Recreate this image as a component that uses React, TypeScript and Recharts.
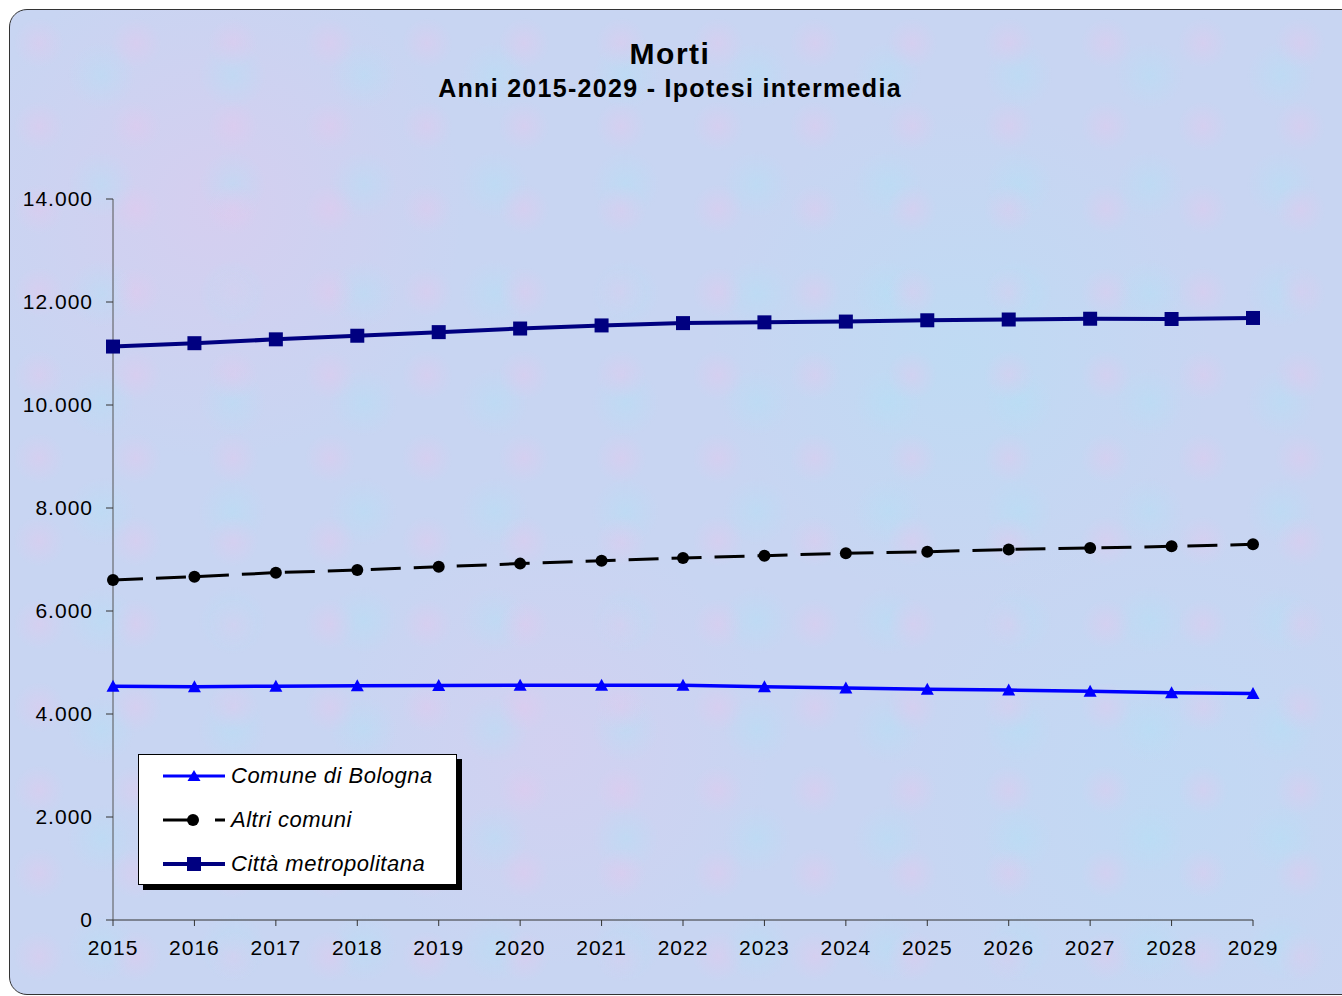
import { LineChart, Line, XAxis, YAxis, Legend } from 'recharts';

const YEARS = ['2015', '2016', '2017', '2018', '2019', '2020', '2021', '2022', '2023', '2024', '2025', '2026', '2027', '2028', '2029'];
const COMUNE_BOLOGNA = [4540, 4530, 4540, 4550, 4555, 4560, 4560, 4560, 4530, 4505, 4480, 4465, 4440, 4415, 4400];
const ALTRI_COMUNI = [6600, 6665, 6745, 6795, 6860, 6920, 6975, 7030, 7075, 7120, 7150, 7195, 7225, 7255, 7295];
const CITTA_METRO = [11135, 11200, 11275, 11345, 11415, 11485, 11545, 11590, 11605, 11620, 11645, 11660, 11675, 11670, 11690];
const Y_TICKS = [0, 2000, 4000, 6000, 8000, 10000, 12000, 14000];

const data = YEARS.map((year, i) => ({
  year,
  comune: COMUNE_BOLOGNA[i],
  altri: ALTRI_COMUNI[i],
  citta: CITTA_METRO[i],
}));

const FONT = '"Liberation Sans", Arial, sans-serif';
const BLUE = '#0000ff';
const NAVY = '#000080';

const fmt = (v: number) => String(v).replace(/\B(?=(\d{3})+(?!\d))/g, '.');

const TriangleDot = (p: any) => (
  <path key={`t${p.index}`} d={`M${p.cx},${p.cy - 6.5} L${p.cx + 6.5},${p.cy + 5.5} L${p.cx - 6.5},${p.cy + 5.5} Z`} fill={BLUE} />
);
const CircleDot = (p: any) => <circle key={`c${p.index}`} cx={p.cx} cy={p.cy} r={6} fill="#000" />;
const SquareDot = (p: any) => <rect key={`s${p.index}`} x={p.cx - 7} y={p.cy - 7} width={14} height={14} fill={NAVY} />;

const LEGEND_ROWS = [
  { label: 'Comune di Bologna', kind: 'tri' },
  { label: 'Altri comuni', kind: 'dot' },
  { label: 'Città metropolitana', kind: 'sq' },
];

const LegendIcon = ({ kind }: { kind: string }) => (
  <svg width={64} height={16} style={{ display: 'block' }}>
    {kind === 'tri' && (
      <>
        <line x1={0} y1={8} x2={62} y2={8} stroke={BLUE} strokeWidth={3} />
        <path d="M31,2 L37.5,13 L24.5,13 Z" fill={BLUE} />
      </>
    )}
    {kind === 'dot' && (
      <>
        <line x1={0} y1={8} x2={31} y2={8} stroke="#000" strokeWidth={3} />
        <circle cx={30} cy={8} r={6} fill="#000" />
        <line x1={52} y1={8} x2={62} y2={8} stroke="#000" strokeWidth={3} />
      </>
    )}
    {kind === 'sq' && (
      <>
        <line x1={0} y1={8} x2={62} y2={8} stroke={NAVY} strokeWidth={4} />
        <rect x={24} y={1} width={14} height={14} fill={NAVY} />
      </>
    )}
  </svg>
);

const renderLegend = () => (
  <div
    style={{
      position: 'relative',
      boxSizing: 'border-box',
      width: 319,
      height: 131,
      background: '#fff',
      border: '1px solid #000',
      boxShadow: '5px 5px 0 #000',
    }}
  >
    {LEGEND_ROWS.map((r, i) => (
      <div key={r.label} style={{ position: 'absolute', left: 24, top: 21 + i * 44 - 8, display: 'flex', alignItems: 'center', height: 16 }}>
        <LegendIcon kind={r.kind} />
        <span style={{ marginLeft: 4, fontFamily: FONT, fontStyle: 'italic', fontSize: 22, letterSpacing: 0.5, color: '#000', whiteSpace: 'nowrap' }}>{r.label}</span>
      </div>
    ))}
  </div>
);

const tickStyle = { fill: '#000', fontSize: 21, fontFamily: FONT, letterSpacing: 1 };

export default function App() {
  return (
    <div style={{ position: 'fixed', left: 0, top: 0, width: 1342, height: 996, overflow: 'hidden', background: '#fff' }}>
      <div
        style={{
          position: 'absolute',
          left: 9,
          top: 9,
          width: 1360,
          height: 986,
          boxSizing: 'border-box',
          border: '1px solid #333',
          borderRadius: 18,
          overflow: 'hidden',
          backgroundColor: '#c8d5f2',
          backgroundImage:
            'radial-gradient(circle at 30% 40%, rgba(236,196,236,0.35), transparent 30%),' +
            'radial-gradient(circle at 70% 60%, rgba(176,226,246,0.4), transparent 30%),' +
            'radial-gradient(circle at 15% 20%, rgba(232,196,236,0.4), transparent 18%),' +
            'radial-gradient(circle at 70% 35%, rgba(180,225,245,0.45), transparent 22%),' +
            'radial-gradient(circle at 40% 75%, rgba(228,200,238,0.35), transparent 20%),' +
            'radial-gradient(circle at 85% 80%, rgba(185,222,246,0.45), transparent 20%)',
          backgroundSize: '97px 83px, 131px 109px, 100% 100%, 100% 100%, 100% 100%, 100% 100%',
        }}
      >
        <div style={{ position: 'absolute', left: 0, width: 1320, top: 29, textAlign: 'center', fontFamily: FONT, fontWeight: 'bold', fontSize: 30, letterSpacing: 1.5, lineHeight: '30px', color: '#000' }}>
          Morti
        </div>
        <div style={{ position: 'absolute', left: 0, width: 1320, top: 66, textAlign: 'center', fontFamily: FONT, fontWeight: 'bold', fontSize: 25, letterSpacing: 1.3, lineHeight: '25px', color: '#000' }}>
          Anni 2015-2029 - Ipotesi intermedia
        </div>
        <LineChart width={1330} height={984} data={data} margin={{ top: 189, right: 87, bottom: 34, left: 0 }}>
          <XAxis
            dataKey="year"
            height={40}
            tickSize={6}
            tickMargin={14}
            axisLine={{ stroke: '#333', strokeWidth: 1 }}
            tickLine={{ stroke: '#333' }}
            tick={tickStyle}
            interval={0}
          />
          <YAxis
            width={103}
            domain={[0, 14000]}
            ticks={Y_TICKS}
            interval={0}
            tickFormatter={fmt}
            tickSize={7}
            tickMargin={13}
            axisLine={{ stroke: '#555', strokeWidth: 1 }}
            tickLine={{ stroke: '#333' }}
            tick={tickStyle}
          />
          <Legend
            layout="vertical"
            align="center"
            verticalAlign="middle"
            content={renderLegend}
            wrapperStyle={{ left: 128, top: 744, width: 330, height: 140 }}
          />
          <Line dataKey="comune" name="Comune di Bologna" stroke={BLUE} strokeWidth={3.5} dot={TriangleDot} activeDot={false} isAnimationActive={false} />
          <Line dataKey="altri" name="Altri comuni" stroke="#000" strokeWidth={3} strokeDasharray="30 13" dot={CircleDot} activeDot={false} isAnimationActive={false} />
          <Line dataKey="citta" name="Città metropolitana" stroke={NAVY} strokeWidth={4} dot={SquareDot} activeDot={false} isAnimationActive={false} />
        </LineChart>
      </div>
    </div>
  );
}
